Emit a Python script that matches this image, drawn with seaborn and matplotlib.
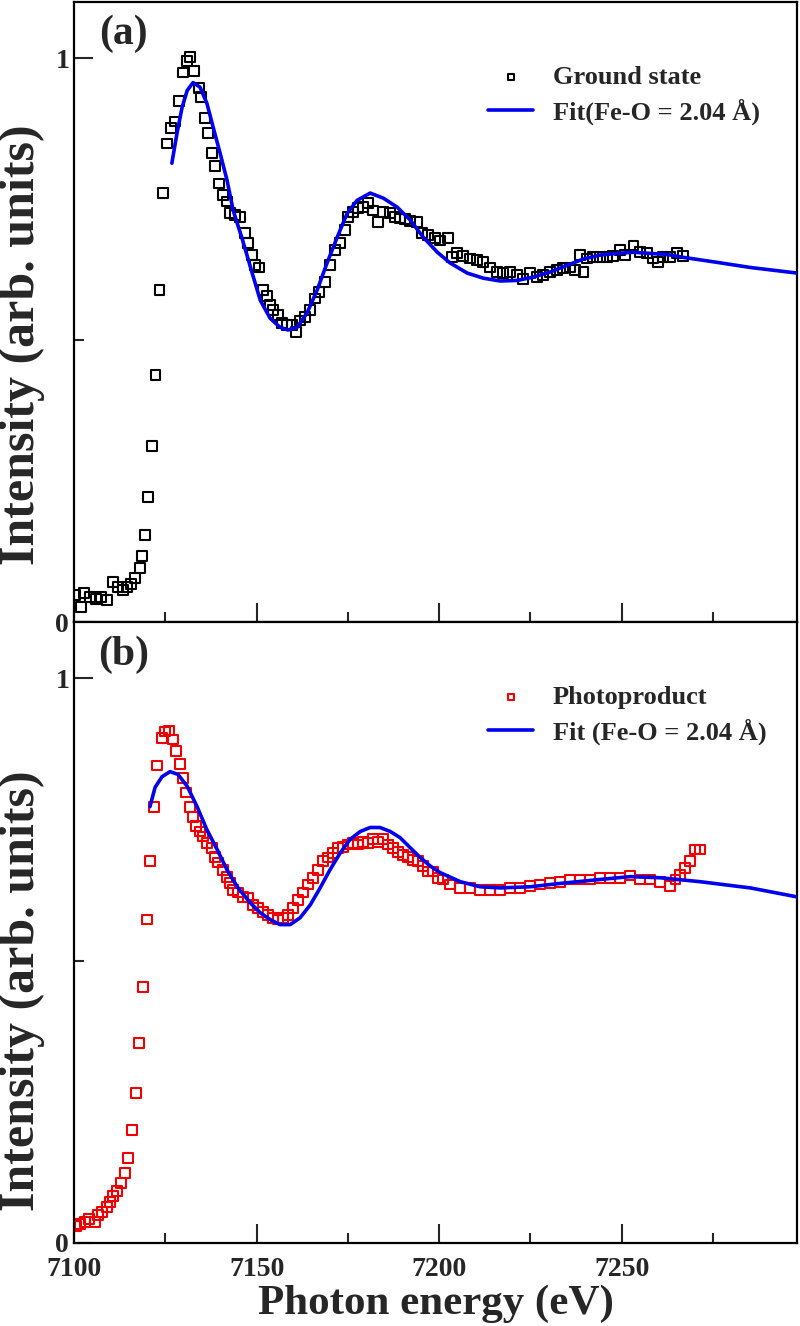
import matplotlib
matplotlib.use("Agg")
import matplotlib.pyplot as plt
import seaborn as sns
from matplotlib.ticker import MultipleLocator

# ground state data (eV, intensity)
gs_energy = [7100.3, 7101.9, 7102.7, 7104.4, 7106.0, 7107.4, 7109.0, 7110.7, 7112.1, 7113.4,
             7114.5, 7115.6, 7116.7, 7118.1, 7118.6, 7119.5, 7120.3, 7121.3, 7122.3, 7123.4,
             7124.4, 7125.5, 7126.6, 7127.7, 7128.8, 7129.9, 7131.0, 7131.8, 7132.9, 7134.2,
             7134.8, 7135.9, 7136.7, 7137.8, 7138.6, 7139.7, 7140.8, 7141.9, 7142.7, 7144.1,
             7145.5, 7146.8, 7147.7, 7148.8, 7149.6, 7150.7, 7151.8, 7152.9, 7153.7, 7154.5,
             7155.9, 7157.0, 7158.4, 7159.7, 7160.8, 7161.9, 7163.3, 7164.7, 7166.0, 7167.1,
             7168.8, 7170.1, 7171.5, 7172.9, 7174.2, 7175.1, 7176.4, 7177.8, 7179.2, 7180.5,
             7181.9, 7183.3, 7184.7, 7186.6, 7187.9, 7189.3, 7190.7, 7192.1, 7194.0, 7195.3,
             7197.0, 7198.9, 7200.3, 7202.5, 7203.6, 7204.9, 7206.6, 7208.5, 7210.4, 7212.1,
             7214.0, 7215.9, 7217.5, 7219.5, 7221.4, 7223.0, 7224.9, 7226.8, 7228.5, 7230.4,
             7232.3, 7234.0, 7235.9, 7237.3, 7238.6, 7239.5, 7240.5, 7242.2, 7244.1, 7246.0,
             7247.7, 7249.6, 7251.0, 7253.2, 7255.1, 7257.0, 7258.6, 7260.0, 7261.4, 7263.3,
             7265.2, 7266.8]
gs_intensity = [0.048, 0.027, 0.051, 0.044, 0.041, 0.044, 0.039, 0.071, 0.062, 0.057,
                0.062, 0.067, 0.078, 0.096, 0.117, 0.154, 0.222, 0.312, 0.438, 0.589,
                0.761, 0.849, 0.876, 0.888, 0.924, 0.975, 0.996, 1.002, 0.977, 0.947,
                0.931, 0.894, 0.867, 0.832, 0.809, 0.778, 0.757, 0.746, 0.725, 0.722,
                0.718, 0.690, 0.672, 0.651, 0.633, 0.629, 0.589, 0.578, 0.562, 0.553,
                0.544, 0.530, 0.527, 0.527, 0.514, 0.535, 0.541, 0.553, 0.574, 0.585,
                0.603, 0.633, 0.660, 0.672, 0.695, 0.718, 0.727, 0.734, 0.736, 0.743,
                0.730, 0.709, 0.727, 0.725, 0.718, 0.716, 0.715, 0.711, 0.709, 0.690,
                0.686, 0.681, 0.677, 0.681, 0.647, 0.654, 0.649, 0.645, 0.642, 0.638,
                0.629, 0.621, 0.619, 0.621, 0.615, 0.608, 0.619, 0.612, 0.615, 0.621,
                0.624, 0.628, 0.629, 0.624, 0.651, 0.621, 0.645, 0.647, 0.647, 0.647,
                0.649, 0.660, 0.651, 0.668, 0.656, 0.654, 0.645, 0.638, 0.647, 0.647,
                0.654, 0.649]

gs_fit_energy = [7126.8, 7128.2, 7129.6, 7131.0, 7132.6, 7134.5, 7136.4, 7138.1, 7140.0, 7141.9,
                 7143.6, 7146.0, 7148.8, 7151.0, 7153.7, 7156.4, 7158.6, 7161.1, 7163.8, 7166.6,
                 7169.3, 7172.1, 7174.8, 7177.5, 7181.1, 7184.7, 7188.5, 7192.1, 7195.6, 7199.5,
                 7203.0, 7207.7, 7212.1, 7216.7, 7221.4, 7225.8, 7230.4, 7235.1, 7239.5, 7244.1,
                 7248.8, 7253.2, 7257.8, 7262.5, 7266.8, 7276.2, 7285.2, 7298.1]
gs_fit = [0.814, 0.867, 0.913, 0.943, 0.957, 0.949, 0.920, 0.878, 0.832, 0.784,
          0.730, 0.681, 0.619, 0.571, 0.539, 0.523, 0.518, 0.523, 0.548, 0.589,
          0.637, 0.683, 0.725, 0.748, 0.761, 0.752, 0.736, 0.713, 0.683, 0.656,
          0.637, 0.619, 0.610, 0.605, 0.606, 0.612, 0.621, 0.633, 0.644, 0.651,
          0.654, 0.656, 0.654, 0.652, 0.647, 0.638, 0.629, 0.619]

# photoproduct data
pp_energy = [7100.5, 7101.6, 7103.0, 7104.1, 7105.8, 7106.6, 7107.7, 7109.0, 7109.9, 7110.7,
             7111.8, 7112.9, 7114.0, 7114.8, 7115.9, 7117.0, 7117.8, 7118.9, 7120.0, 7120.8,
             7121.9, 7122.7, 7124.1, 7124.9, 7126.0, 7127.1, 7127.9, 7129.0, 7129.9, 7130.7,
             7131.8, 7132.6, 7133.4, 7134.5, 7135.3, 7136.4, 7137.8, 7138.6, 7139.5, 7140.8,
             7141.9, 7142.7, 7143.6, 7144.9, 7146.3, 7147.7, 7149.0, 7150.4, 7151.8, 7153.2,
             7154.5, 7155.9, 7157.3, 7158.6, 7160.0, 7161.4, 7162.7, 7164.1, 7165.5, 7166.8,
             7168.2, 7169.6, 7171.0, 7172.3, 7173.7, 7175.1, 7176.4, 7177.8, 7179.2, 7180.5,
             7181.9, 7183.3, 7184.7, 7186.0, 7187.4, 7188.8, 7190.1, 7191.5, 7192.9, 7194.2,
             7195.6, 7197.0, 7198.4, 7199.7, 7201.1, 7203.0, 7205.8, 7208.5, 7211.2, 7214.0,
             7216.7, 7219.5, 7222.2, 7224.9, 7227.7, 7230.4, 7233.2, 7235.9, 7238.6, 7241.4,
             7244.1, 7246.8, 7249.6, 7252.3, 7255.1, 7257.8, 7260.5, 7263.3, 7264.7, 7266.0,
             7267.4, 7268.8, 7270.1, 7271.5]
pp_intensity = [0.030, 0.034, 0.037, 0.043, 0.037, 0.050, 0.055, 0.064, 0.073, 0.083,
                0.092, 0.106, 0.124, 0.151, 0.200, 0.266, 0.355, 0.454, 0.573, 0.676,
                0.773, 0.846, 0.895, 0.906, 0.908, 0.892, 0.871, 0.849, 0.824, 0.798,
                0.773, 0.754, 0.738, 0.729, 0.720, 0.709, 0.699, 0.684, 0.674, 0.661,
                0.649, 0.638, 0.626, 0.621, 0.613, 0.612, 0.599, 0.594, 0.587, 0.581,
                0.576, 0.573, 0.576, 0.581, 0.594, 0.608, 0.621, 0.635, 0.647, 0.661,
                0.676, 0.683, 0.691, 0.700, 0.702, 0.706, 0.709, 0.706, 0.711, 0.709,
                0.715, 0.711, 0.715, 0.706, 0.700, 0.693, 0.688, 0.684, 0.679, 0.676,
                0.668, 0.658, 0.658, 0.647, 0.644, 0.635, 0.629, 0.629, 0.626, 0.626,
                0.626, 0.629, 0.629, 0.633, 0.635, 0.637, 0.640, 0.644, 0.644, 0.644,
                0.647, 0.647, 0.647, 0.651, 0.644, 0.644, 0.640, 0.633, 0.644, 0.652,
                0.665, 0.676, 0.697, 0.697]

pp_fit_energy = [7120.8, 7122.2, 7124.1, 7126.3, 7128.5, 7131.0, 7133.7, 7136.4, 7139.2, 7141.9,
                 7144.7, 7148.2, 7151.0, 7153.7, 7156.4, 7159.2, 7161.9, 7164.7, 7167.4, 7170.1,
                 7172.9, 7175.6, 7178.4, 7181.1, 7183.8, 7186.6, 7189.3, 7192.1, 7194.8, 7197.5,
                 7200.3, 7205.8, 7211.2, 7216.7, 7224.9, 7233.2, 7244.1, 7252.3, 7260.5, 7271.5,
                 7285.2, 7298.1]
pp_fit = [0.773, 0.807, 0.826, 0.835, 0.830, 0.809, 0.773, 0.732, 0.697, 0.661,
          0.631, 0.603, 0.585, 0.573, 0.564, 0.564, 0.576, 0.599, 0.629, 0.661,
          0.691, 0.715, 0.729, 0.736, 0.736, 0.729, 0.718, 0.700, 0.683, 0.668,
          0.656, 0.640, 0.631, 0.629, 0.631, 0.637, 0.644, 0.649, 0.647, 0.640,
          0.629, 0.613]

sns.set_style("ticks")
plt.rcParams['font.family'] = ['Liberation Serif', 'DejaVu Serif']
plt.rcParams['font.weight'] = 'bold'
plt.rcParams['axes.labelweight'] = 'bold'

fig = plt.figure(figsize=(8, 13.26), dpi=100)
ax_top = fig.add_axes([0.0925, 0.5309, 0.9038, 0.4676])
ax_bot = fig.add_axes([0.0925, 0.0626, 0.9038, 0.4683])

panels = [
    (ax_top, gs_energy, gs_intensity, gs_fit_energy, gs_fit, 'black',
     'Ground state', 'Fit(Fe-O = 2.04 Å)', '(a)', 0.448),
    (ax_bot, pp_energy, pp_intensity, pp_fit_energy, pp_fit, '#ee0000',
     'Photoproduct', 'Fit (Fe-O = 2.04 Å)', '(b)', 0.407),
]

for ax, xe, ye, xf, yf, col, lab_d, lab_f, tag, ylab_pos in panels:
    sns.scatterplot(x=xe, y=ye, ax=ax, marker='s', s=50, facecolors='none',
                    edgecolor=col, linewidth=1.5, label=lab_d, zorder=2)
    sns.lineplot(x=xf, y=yf, ax=ax, color='#0000ee', linewidth=2.6,
                 sort=False, estimator=None, label=lab_f, zorder=3)
    ax.set_xlim(7100, 7298)
    ax.set_ylim(0, 1.1)
    ax.xaxis.set_major_locator(MultipleLocator(50))
    ax.xaxis.set_minor_locator(MultipleLocator(25))
    ax.yaxis.set_major_locator(MultipleLocator(1))
    ax.yaxis.set_minor_locator(MultipleLocator(0.5))
    ax.tick_params(which='major', direction='in', length=14, width=1.5,
                   labelsize=20, top=False, right=False)
    ax.tick_params(axis='x', which='major', pad=10)
    ax.tick_params(which='minor', direction='in', length=7, width=1.5,
                   top=False, right=False)
    for sp in ax.spines.values():
        sp.set_linewidth(1.6)
        sp.set_color('black')
    ax.set_ylabel('Intensity (arb. units)', fontsize=36)
    ax.yaxis.set_label_coords(-0.040, ylab_pos)
    ax.text(0.069, 0.948, tag, transform=ax.transAxes, fontsize=30,
            ha='center', va='center')
    ax.legend(loc='center left', bbox_to_anchor=(0.573, 0.85), frameon=False,
              fontsize=19, markerscale=0.6, handlelength=1.7, handletextpad=0.75,
              labelspacing=0.35, borderpad=0, borderaxespad=0)

ax_top.set_xlabel('')
ax_top.tick_params(labelbottom=False)
ax_bot.set_xlabel('Photon energy (eV)', fontsize=31, labelpad=2)

fig.savefig('out.png', dpi=100)
